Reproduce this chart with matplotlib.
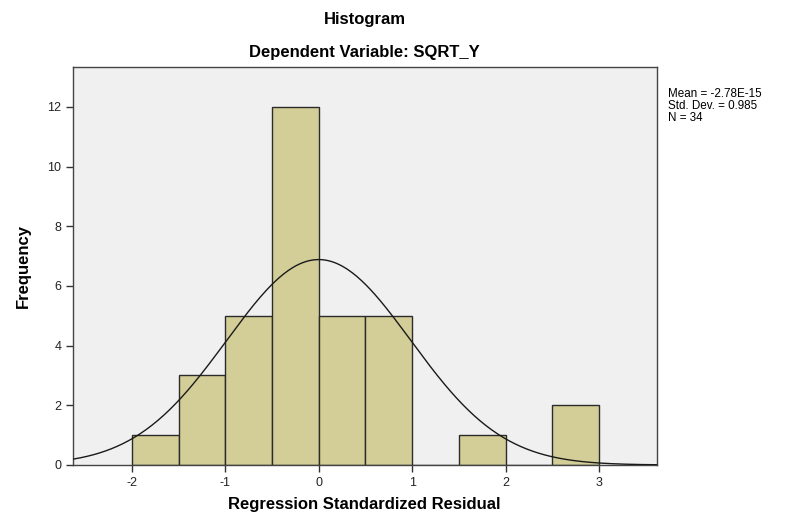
import matplotlib
matplotlib.use('Agg')
import matplotlib.pyplot as plt
import numpy as np

plt.rcParams['font.family'] = ['Liberation Sans', 'DejaVu Sans']
plt.rcParams['axes.unicode_minus'] = False

# bin edges and counts
bin_edges = [-2.0, -1.5, -1.0, -0.5, 0.0, 0.5, 1.0, 1.5, 2.0, 2.5, 3.0]
counts = [1, 3, 5, 12, 5, 5, 0, 1, 0, 2]

# stats printed next to the chart
mean = -2.78e-15
std = 0.985
n = 34

xticks = [-2, -1, 0, 1, 2, 3]
yticks = [0, 2, 4, 6, 8, 10, 12]

fig = plt.figure(figsize=(7.9, 5.13), dpi=100)
ax = fig.add_axes([0.0924, 0.0936, 0.7392, 0.7758])
ax.set_facecolor('#F0F0F0')

edges = np.array(bin_edges)
widths = np.diff(edges)
ax.bar(edges[:-1], counts, width=widths, align='edge', color='#D3CE97',
       edgecolor='#2b2b2b', linewidth=1.0, zorder=2)

# normal curve scaled to counts
xmin, xmax = -2.63, 3.62
xs = np.linspace(xmin, xmax, 400)
bw = widths[0]
pdf = np.exp(-0.5 * ((xs - mean) / std) ** 2) / (std * np.sqrt(2 * np.pi))
ax.plot(xs, n * bw * pdf, color='#1a1a1a', linewidth=1.0, zorder=3)

ax.set_xlim(xmin, xmax)
ax.set_ylim(0, 13.34)
ax.set_xticks(xticks)
ax.set_yticks(yticks)
ax.tick_params(direction='out', length=5, width=1, color='#333333',
               labelsize=9, labelcolor='#222222')
for s in ax.spines.values():
    s.set_color('#444444')
    s.set_linewidth(1.0)

ax.set_ylabel('Frequency', fontsize=12, fontweight='bold', labelpad=12)
fig.text(0.4615, 0.0156, 'Regression Standardized Residual', ha='center', va='center',
         fontsize=12, fontweight='bold')

fig.text(0.4615, 0.962, 'Histogram', ha='center', va='center', fontsize=12, fontweight='bold')
fig.text(0.4615, 0.897, 'Dependent Variable: SQRT_Y', ha='center', va='center', fontsize=12, fontweight='bold')

fig.text(0.845, 0.828, 'Mean = -2.78E-15\nStd. Dev. = 0.985\nN = 34',
         ha='left', va='top', fontsize=8.4, linespacing=1.0)

fig.savefig('out.png', dpi=100)
